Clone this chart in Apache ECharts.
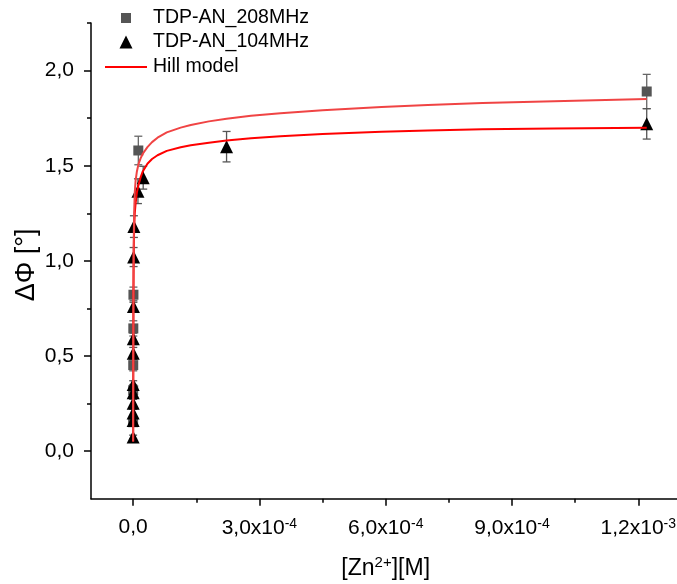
<!DOCTYPE html>
<html><head><meta charset="utf-8">
<script src="https://cdn.jsdelivr.net/npm/echarts@6/dist/echarts.min.js"></script>
<style>html,body{margin:0;padding:0;background:#fff}#c{width:677px;height:584px}</style>
</head><body><div id="c"></div>
<script>
// Tick positions
const xMajorTicks = [0, 3e-4, 6e-4, 9e-4, 1.2e-3];
const xMinorTicks = [1.5e-4, 4.5e-4, 7.5e-4, 1.05e-3];
const yMajorTicks = [0, 0.5, 1.0, 1.5, 2.0];
const yMinorTicks = [0.25, 0.75, 1.25, 1.75, 2.25];

// TDP-AN_208MHz (squares)
const sq208X   = [5e-8, 1.5e-7, 3e-7, 5e-7, 8e-7, 1.24e-5, 1.22e-3];
const sq208Y   = [0.152, 0.32, 0.452, 0.645, 0.822, 1.58, 1.89];
const sq208Err = [0.02, 0.03, 0.03, 0.04, 0.04, 0.075, 0.09];

// TDP-AN_104MHz (triangles)
const tri104X   = [3e-8, 8e-8, 1e-7, 1.5e-7, 2e-7, 2.5e-7, 4e-7, 5e-7, 8e-7, 1.2e-6, 1.9e-6, 1.15e-5, 2.4e-5, 2.22e-4, 1.22e-3];
const tri104Y   = [0.074, 0.161, 0.20, 0.252, 0.307, 0.35, 0.515, 0.59, 0.76, 1.02, 1.18, 1.366, 1.437, 1.60, 1.72];
const tri104Err = [0.01, 0.02, 0.02, 0.02, 0.02, 0.02, 0.03, 0.03, 0.03, 0.05, 0.057, 0.065, 0.06, 0.08, 0.08];

// Hill model curves
const hillX    = [1e-7, 4e-7, 8e-7, 1.3e-6, 2.4e-6, 4e-6, 5.9e-6, 9e-6, 1.3e-5, 1.8e-5, 2.3e-5, 3.4e-5, 4.5e-5, 5.8e-5, 8e-5, 1.13e-4, 1.37e-4, 1.8e-4, 2.22e-4, 2.8e-4, 3.5e-4, 4.5e-4, 5.9e-4, 7e-4, 8.3e-4, 1.0e-3, 1.22e-3];
const hill104Y = [0.05, 0.45, 0.8, 1.0, 1.16, 1.25, 1.30, 1.36, 1.40, 1.44, 1.47, 1.51, 1.535, 1.555, 1.578, 1.597, 1.607, 1.621, 1.632, 1.644, 1.655, 1.667, 1.678, 1.685, 1.691, 1.696, 1.70];
const hill208Y = [0.05, 0.48, 0.85, 1.07, 1.25, 1.36, 1.42, 1.47, 1.51, 1.54, 1.563, 1.598, 1.624, 1.647, 1.675, 1.70, 1.714, 1.733, 1.747, 1.762, 1.776, 1.792, 1.809, 1.819, 1.829, 1.839, 1.85];

const FONT = "'Liberation Sans', Arial, sans-serif";

function pairs(xs, ys) { return xs.map((x, i) => [x, ys[i]]); }
function errData(xs, ys, es) { return xs.map((x, i) => [x, ys[i] - es[i], ys[i] + es[i]]); }

function errRender(color) {
  return function (params, api) {
    const x = api.value(0), lo = api.value(1), hi = api.value(2);
    const p1 = api.coord([x, hi]), p2 = api.coord([x, lo]);
    const w = 4;
    const style = { stroke: color, lineWidth: 1.3 };
    return { type: 'group', children: [
      { type: 'line', shape: { x1: p1[0], y1: p1[1], x2: p2[0], y2: p2[1] }, style: style },
      { type: 'line', shape: { x1: p1[0] - w, y1: p1[1], x2: p1[0] + w, y2: p1[1] }, style: style },
      { type: 'line', shape: { x1: p2[0] - w, y1: p2[1], x2: p2[0] + w, y2: p2[1] }, style: style }
    ] };
  };
}

function xLabel(v) {
  if (Math.abs(v) < 1e-12) return '0,0';
  const exp = Math.floor(Math.log10(Math.abs(v)) + 1e-9);
  const mant = (v / Math.pow(10, exp)).toFixed(1).replace('.', ',');
  return '{a|' + mant + 'x10}{s|' + exp + '}';
}

function legendText(padLeft) {
  return { fontFamily: FONT, fontSize: 19.5, color: '#000', lineHeight: 20, padding: [0, 0, 0, padLeft] };
}

const chart = echarts.init(document.getElementById('c'), null, { renderer: 'canvas' });
chart.setOption({
  animation: false,
  backgroundColor: '#fff',
  grid: { left: 91, top: 23, right: -3.4, bottom: 85.3, containLabel: false, outerBoundsMode: 'none' },
  legend: [
    { data: [{ name: 'TDP-AN_208MHz', icon: 'rect' }], left: 121, top: 8, padding: 0, itemWidth: 10, itemHeight: 10, textStyle: legendText(17), selectedMode: false },
    { data: [{ name: 'TDP-AN_104MHz', icon: 'triangle' }], left: 119.5, top: 32, padding: 0, itemWidth: 13, itemHeight: 13, textStyle: legendText(15.5), selectedMode: false },
    { data: [{ name: 'Hill model', icon: 'rect' }], left: 105, top: 57, padding: 0, itemWidth: 42, itemHeight: 2, textStyle: legendText(1), selectedMode: false }
  ],
  xAxis: [
    {
      type: 'value', min: -1e-4, max: 1.3e-3, position: 'bottom',
      axisLine: { onZero: false, lineStyle: { color: '#000', width: 1.5 } },
      axisTick: { customValues: xMajorTicks, length: 7, lineStyle: { color: '#000', width: 1.5 } },
      axisLabel: {
        customValues: xMajorTicks, formatter: xLabel, margin: 18, color: '#000',
        fontFamily: FONT, fontSize: 21,
        rich: {
          a: { fontFamily: FONT, fontSize: 21, color: '#000', lineHeight: 23 },
          s: { fontFamily: FONT, fontSize: 14, color: '#000', verticalAlign: 'top', lineHeight: 14 }
        }
      },
      splitLine: { show: false },
      name: '{a|[Zn}{s|2+}{a|][M]}', nameLocation: 'middle', nameGap: 57, nameMoveOverlap: false,
      nameTextStyle: {
        rich: {
          a: { fontFamily: FONT, fontSize: 23, color: '#000', lineHeight: 26 },
          s: { fontFamily: FONT, fontSize: 15, color: '#000', verticalAlign: 'top', lineHeight: 15 }
        }
      }
    },
    {
      type: 'value', min: -1e-4, max: 1.3e-3, position: 'bottom',
      axisLine: { show: false, onZero: false },
      axisTick: { customValues: xMinorTicks, length: 4, lineStyle: { color: '#000', width: 1.5 } },
      axisLabel: { show: false },
      splitLine: { show: false }
    }
  ],
  yAxis: [
    {
      type: 'value', min: -0.25, max: 2.25, position: 'left',
      axisLine: { onZero: false, lineStyle: { color: '#000', width: 1.5 } },
      axisTick: { customValues: yMajorTicks, length: 7, lineStyle: { color: '#000', width: 1.5 } },
      axisLabel: {
        customValues: yMajorTicks, margin: 17, color: '#000', fontFamily: FONT, fontSize: 21,
        formatter: v => v.toFixed(1).replace('.', ',')
      },
      splitLine: { show: false },
      name: 'ΔΦ [°]', nameLocation: 'middle', nameGap: 51, nameMoveOverlap: false,
      nameTextStyle: { fontFamily: FONT, fontSize: 27, color: '#000', padding: [0, 8, 0, 0] }
    },
    {
      type: 'value', min: -0.25, max: 2.25, position: 'left',
      axisLine: { show: false, onZero: false },
      axisTick: { customValues: yMinorTicks, length: 4, lineStyle: { color: '#000', width: 1.5 } },
      axisLabel: { show: false },
      splitLine: { show: false }
    }
  ],
  series: [
    { type: 'custom', name: 'err208', renderItem: errRender('#666'), data: errData(sq208X, sq208Y, sq208Err), encode: { x: 0, y: [1, 2] }, z: 1 },
    { type: 'custom', name: 'err104', renderItem: errRender('#555'), data: errData(tri104X, tri104Y, tri104Err), encode: { x: 0, y: [1, 2] }, z: 1 },
    { type: 'scatter', name: 'TDP-AN_208MHz', symbol: 'rect', symbolSize: 10, itemStyle: { color: '#555555', opacity: 1 }, data: pairs(sq208X, sq208Y), z: 2 },
    { type: 'scatter', name: 'TDP-AN_104MHz', symbol: 'triangle', symbolSize: 13, itemStyle: { color: '#000000', opacity: 1 }, data: pairs(tri104X, tri104Y), z: 3 },
    { type: 'line', name: 'Hill model', symbol: 'none', showSymbol: false, lineStyle: { color: '#ff0000', width: 2 }, itemStyle: { color: '#ff0000' }, data: pairs(hillX, hill104Y), z: 4 },
    { type: 'line', name: 'Hill model', symbol: 'none', showSymbol: false, lineStyle: { color: '#f04444', width: 2 }, itemStyle: { color: '#f04444' }, data: pairs(hillX, hill208Y), z: 4 }
  ]
});
</script>
</body></html>
